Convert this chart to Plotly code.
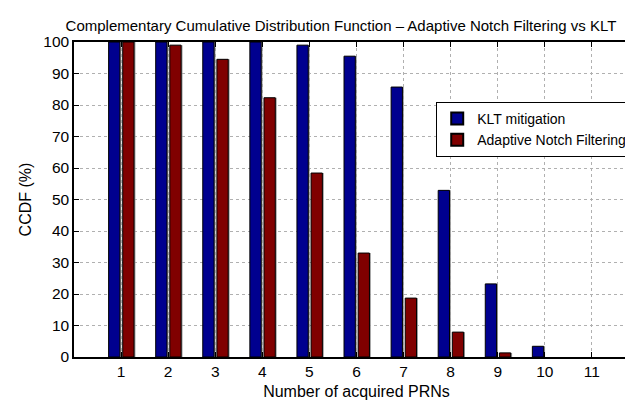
import plotly.graph_objects as go

prns = [1, 2, 3, 4, 5, 6, 7, 8, 9, 10, 11]
klt = [100, 100, 100, 100, 99.0, 95.5, 85.7, 52.9, 23.2, 3.4, 0]
anf = [100, 99.0, 94.5, 82.3, 58.4, 33.0, 18.7, 7.9, 1.3, 0, 0]
yticks = [0, 10, 20, 30, 40, 50, 60, 70, 80, 90, 100]

font = "Liberation Sans, Arial, Helvetica, sans-serif"
BAR_W = 0.24
OFFSETS = {"klt": -0.265, "anf": 0.035}


def outline_widths(vals):
    return [1 if v > 0 else 0 for v in vals]


fig = go.Figure()
# soft gray shadow behind each bar (as in the reference rendering)
for vals, key in ((klt, "klt"), (anf, "anf")):
    fig.add_trace(go.Bar(x=prns, y=vals, width=BAR_W, offset=OFFSETS[key] + 0.03,
                         marker=dict(color="#9a9a9a", line=dict(width=0)),
                         showlegend=False, hoverinfo="skip"))

fig.add_trace(go.Bar(x=prns, y=klt, name="KLT mitigation", width=BAR_W, offset=OFFSETS["klt"],
                     marker=dict(color="#00008F",
                                 line=dict(color="black", width=outline_widths(klt)))))
fig.add_trace(go.Bar(x=prns, y=anf, name="Adaptive Notch Filtering", width=BAR_W, offset=OFFSETS["anf"],
                     marker=dict(color="#800000",
                                 line=dict(color="black", width=outline_widths(anf)))))

fig.update_layout(
    width=633, height=402,
    margin=dict(l=66, r=0, t=34, b=53),
    paper_bgcolor="white", plot_bgcolor="white",
    barmode="overlay",
    font=dict(family=font, size=16, color="black"),
    title=dict(text="Complementary Cumulative Distribution Function \u2013 Adaptive Notch Filtering vs KLT",
               x=0.526, xanchor="center", y=0.957, yanchor="middle",
               font=dict(family=font, size=15, color="black")),
    legend=dict(x=0.988, xanchor="right", y=0.81, yanchor="top",
                bgcolor="white", bordercolor="black", borderwidth=1,
                font=dict(family=font, size=14, color="black"),
                tracegroupgap=0, itemsizing="constant"),
    showlegend=True,
)
fig.update_xaxes(range=[0, 12], tickvals=prns, ticks="inside", ticklen=5, tickcolor="black",
                 tickfont=dict(size=15.5),
                 showline=True, linecolor="black", linewidth=1.5, mirror="ticks",
                 showgrid=True, gridcolor="#b0b0b0", griddash="dot", gridwidth=1,
                 title=dict(text="Number of acquired PRNs", standoff=6, font=dict(size=16)),
                 zeroline=False)
fig.update_yaxes(range=[0, 100], tickvals=yticks, ticks="inside", ticklen=5, tickcolor="black",
                 tickfont=dict(size=15.5),
                 showline=True, linecolor="black", linewidth=1.5, mirror="ticks",
                 showgrid=True, gridcolor="#b0b0b0", griddash="dot", gridwidth=1,
                 title=dict(text="CCDF (%)", standoff=8, font=dict(size=16)),
                 zeroline=False)

fig.write_html("out.html")
